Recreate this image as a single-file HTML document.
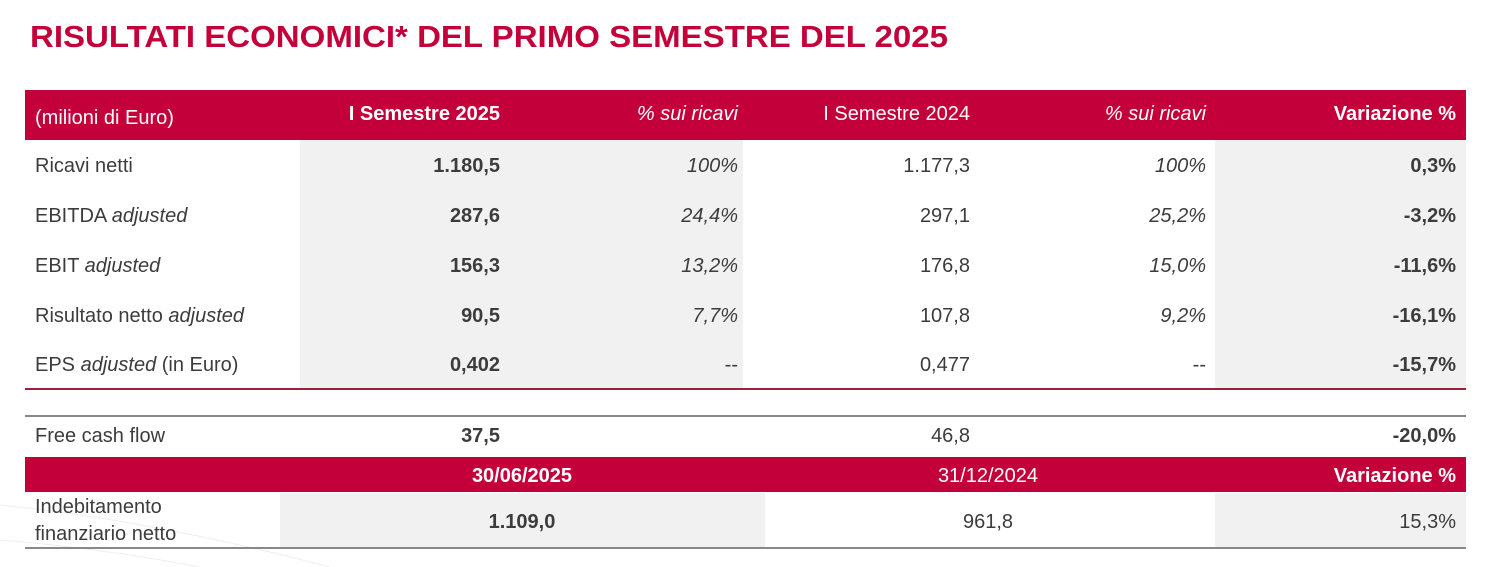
<!DOCTYPE html>
<html><head><meta charset="utf-8">
<style>
html,body{margin:0;padding:0;background:#fff;}
svg{display:block;font-family:"Liberation Sans",sans-serif;}
.t{fill:#3c3c3c;font-size:20px;}
.b{font-weight:bold;}
.i{font-style:italic;}
.w{fill:#fff;font-size:20px;}
</style></head><body>
<svg width="1500" height="567" viewBox="0 0 1500 567">
<path d="M0,505 Q150,520 330,567" stroke="#eee" fill="none"/>
<path d="M0,540 Q100,548 200,567" stroke="#eee" fill="none"/>
<text x="30" y="47" font-size="31" font-weight="bold" fill="#c4003a" textLength="918" lengthAdjust="spacingAndGlyphs">RISULTATI ECONOMICI* DEL PRIMO SEMESTRE DEL 2025</text>

<rect x="25" y="90" width="1441" height="50" fill="#c4003a"/>
<rect x="300" y="140" width="443" height="248" fill="#f1f1f1"/>
<rect x="1215" y="140" width="251" height="248" fill="#f1f1f1"/>
<g>
<text class="w" x="35" y="124">(milioni di Euro)</text>
<text class="w b" x="500" y="120" text-anchor="end">I Semestre 2025</text>
<text class="w i" x="738" y="120" text-anchor="end">% sui ricavi</text>
<text class="w" x="970" y="120" text-anchor="end">I Semestre 2024</text>
<text class="w i" x="1206" y="120" text-anchor="end">% sui ricavi</text>
<text class="w b" x="1456" y="120" text-anchor="end">Variazione %</text>
</g>
<g>
<text class="t" x="35" y="172">Ricavi netti</text>
<text class="t b" x="500" y="172" text-anchor="end">1.180,5</text>
<text class="t i" x="738" y="172" text-anchor="end">100%</text>
<text class="t" x="970" y="172" text-anchor="end">1.177,3</text>
<text class="t i" x="1206" y="172" text-anchor="end">100%</text>
<text class="t b" x="1456" y="172" text-anchor="end">0,3%</text>
</g>
<g>
<text class="t" x="35" y="222">EBITDA <tspan class="i">adjusted</tspan></text>
<text class="t b" x="500" y="222" text-anchor="end">287,6</text>
<text class="t i" x="738" y="222" text-anchor="end">24,4%</text>
<text class="t" x="970" y="222" text-anchor="end">297,1</text>
<text class="t i" x="1206" y="222" text-anchor="end">25,2%</text>
<text class="t b" x="1456" y="222" text-anchor="end">-3,2%</text>
</g>
<g>
<text class="t" x="35" y="272">EBIT <tspan class="i">adjusted</tspan></text>
<text class="t b" x="500" y="272" text-anchor="end">156,3</text>
<text class="t i" x="738" y="272" text-anchor="end">13,2%</text>
<text class="t" x="970" y="272" text-anchor="end">176,8</text>
<text class="t i" x="1206" y="272" text-anchor="end">15,0%</text>
<text class="t b" x="1456" y="272" text-anchor="end">-11,6%</text>
</g>
<g>
<text class="t" x="35" y="322">Risultato netto <tspan class="i">adjusted</tspan></text>
<text class="t b" x="500" y="322" text-anchor="end">90,5</text>
<text class="t i" x="738" y="322" text-anchor="end">7,7%</text>
<text class="t" x="970" y="322" text-anchor="end">107,8</text>
<text class="t i" x="1206" y="322" text-anchor="end">9,2%</text>
<text class="t b" x="1456" y="322" text-anchor="end">-16,1%</text>
</g>
<g>
<text class="t" x="35" y="371">EPS <tspan class="i">adjusted</tspan> (in Euro)</text>
<text class="t b" x="500" y="371" text-anchor="end">0,402</text>
<text class="t" x="738" y="371" text-anchor="end">--</text>
<text class="t" x="970" y="371" text-anchor="end">0,477</text>
<text class="t" x="1206" y="371" text-anchor="end">--</text>
<text class="t b" x="1456" y="371" text-anchor="end">-15,7%</text>
</g>
<line x1="25" y1="389" x2="1466" y2="389" stroke="#a0203c" stroke-width="2"/>
<line x1="25" y1="416" x2="1466" y2="416" stroke="#888" stroke-width="2"/>
<g>
<text class="t" x="35" y="442">Free cash flow</text>
<text class="t b" x="500" y="442" text-anchor="end">37,5</text>
<text class="t" x="970" y="442" text-anchor="end">46,8</text>
<text class="t b" x="1456" y="442" text-anchor="end">-20,0%</text>
</g>
<rect x="25" y="457" width="1441" height="35" fill="#c4003a"/>
<g>
<text class="w b" x="522" y="482" text-anchor="middle">30/06/2025</text>
<text class="w" x="988" y="482" text-anchor="middle">31/12/2024</text>
<text class="w b" x="1456" y="482" text-anchor="end">Variazione %</text>
</g>
<rect x="280" y="493" width="485" height="55" fill="#f1f1f1"/>
<rect x="1215" y="493" width="251" height="55" fill="#f1f1f1"/>
<g>
<text class="t" x="35" y="513">Indebitamento</text>
<text class="t" x="35" y="540">finanziario netto</text>
<text class="t b" x="522" y="528" text-anchor="middle">1.109,0</text>
<text class="t" x="988" y="528" text-anchor="middle">961,8</text>
<text class="t" x="1456" y="528" text-anchor="end">15,3%</text>
</g>
<line x1="25" y1="548" x2="1466" y2="548" stroke="#888" stroke-width="2"/>
</svg>
</body></html>
